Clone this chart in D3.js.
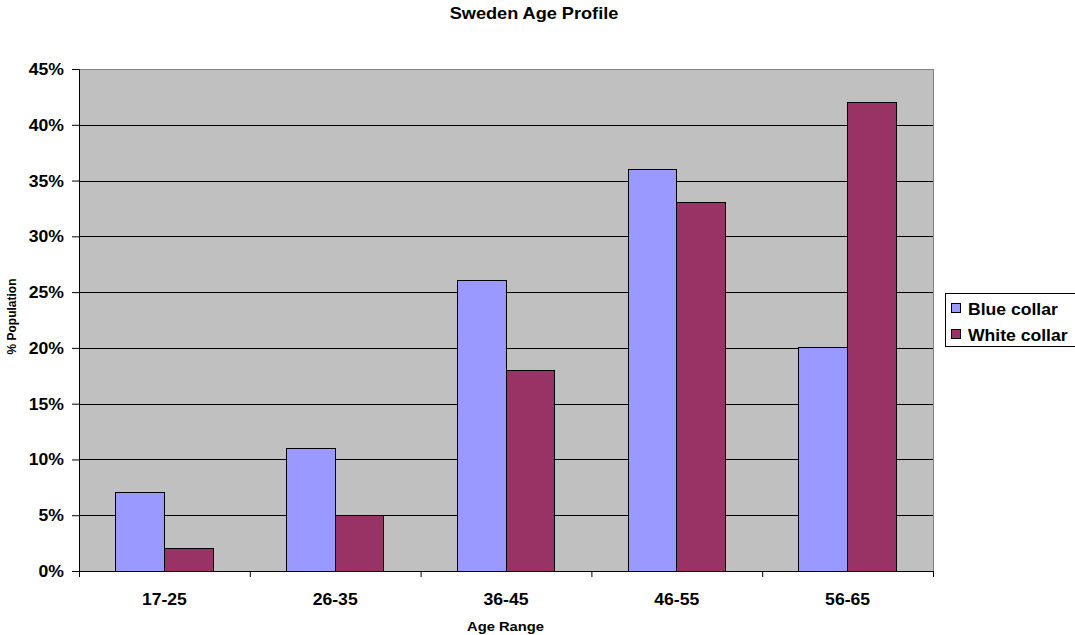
<!DOCTYPE html>
<html><head><meta charset="utf-8">
<script src="https://cdn.jsdelivr.net/npm/d3@7"></script>
<style>body{margin:0;background:#fff;}svg{display:block;font-family:Arial,"Liberation Sans",sans-serif;}</style>
</head><body><svg id="c" width="1075" height="635"></svg>
<script>
const categories = ["17-25","26-35","36-45","46-55","56-65"];
const seriesNames = ["Blue collar","White collar"];
const blueCollar = [7, 11, 26, 36, 20];
const whiteCollar = [2, 5, 18, 33, 42];
const yTicks = [0,5,10,15,20,25,30,35,40,45];
const colors = ["#9999FF","#993366"];

const SX = 1.1; // horizontal stretch of the reference text
const svg = d3.select("#c");
const L = 79, R = 933, T = 69, B = 571;
const x = d3.scaleBand().domain(categories).range([L, R]).paddingInner(0.43).paddingOuter(0.215);
const xs = d3.scaleBand().domain(seriesNames).range([0, x.bandwidth()]);
const y = d3.scaleLinear().domain([0,45]).range([B, T]);

function htext(sel, px, py, size, str, anchor){
  return sel.append("text").attr("transform",`translate(${px},${py}) scale(${SX},1)`)
    .attr("text-anchor",anchor||"middle").attr("font-size",size+"px").attr("font-weight","bold").attr("fill","#000").text(str);
}

svg.append("rect").attr("x",L).attr("y",T).attr("width",R-L).attr("height",B-T).attr("fill","#C0C0C0");
svg.append("g").selectAll("line").data(yTicks.filter(d=>d>0)).join("line")
  .attr("x1",L).attr("x2",R).attr("y1",d=>Math.round(y(d))+0.5).attr("y2",d=>Math.round(y(d))+0.5)
  .attr("stroke",d=>d===45?"#808080":"#000").attr("stroke-width",1);
svg.append("line").attr("x1",R+0.5).attr("x2",R+0.5).attr("y1",T).attr("y2",B).attr("stroke","#808080");

const data = categories.map((c,i)=>({c, vals:[blueCollar[i], whiteCollar[i]]}));
const g = svg.append("g");
data.forEach(d=>{
  d.vals.forEach((v,j)=>{
    g.append("rect").attr("x",x(d.c)+xs(seriesNames[j])).attr("y",y(v))
     .attr("width",xs.bandwidth()).attr("height",y(0)-y(v))
     .attr("fill",colors[j]).attr("stroke","#000").attr("stroke-width",1).attr("shape-rendering","crispEdges");
  });
});

// y axis
const yAxis = d3.axisLeft(y).tickValues(yTicks).tickFormat("").tickSize(7);
const ya = svg.append("g").attr("transform",`translate(${L},0)`).call(yAxis);
ya.select(".domain").attr("stroke","#000");
ya.selectAll("line").attr("stroke","#000");
const ylab = svg.append("g");
yTicks.forEach(t=>{
  htext(ylab, 64, y(t)+6, 16, t+"%", "end");
});

// x axis
const xAxis = d3.axisBottom(d3.scaleLinear().domain([0,5]).range([L,R])).tickValues([0,1,2,3,4,5]).tickSize(6).tickFormat("");
const xa = svg.append("g").attr("transform",`translate(0,${B})`).call(xAxis);
xa.select(".domain").attr("stroke","#000").attr("d",`M${L},0.5H${R}`);
xa.selectAll("line").attr("stroke","#000");
const xl = svg.append("g");
categories.forEach(c=>htext(xl, x(c)+x.bandwidth()/2, 605, 16, c));

htext(svg, 534, 19, 16.5, "Sweden Age Profile");
htext(svg, 505.5, 631, 13.4, "Age Range");
svg.append("text").attr("transform","translate(15.5,316.5) rotate(-90) scale(1,1.1)").attr("text-anchor","middle")
  .attr("font-size","12px").attr("font-weight","bold").text("% Population");

// legend
const lg = svg.append("g");
lg.append("rect").attr("x",945.5).attr("y",293.5).attr("width",140).attr("height",53).attr("fill","#fff").attr("stroke","#000");
seriesNames.forEach((n,i)=>{
  lg.append("rect").attr("x",951.5).attr("y",303.5+i*26).attr("width",9).attr("height",9).attr("fill",colors[i]).attr("stroke","#000");
  htext(lg, 968, 315+i*26, 16, n, "start");
});
</script></body></html>
